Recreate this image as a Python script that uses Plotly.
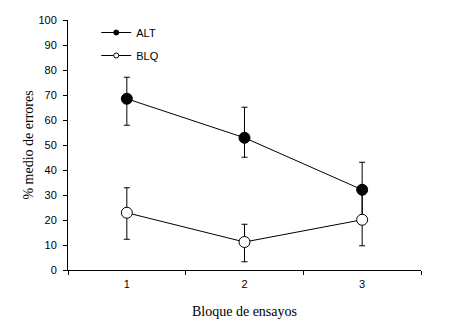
import plotly.graph_objects as go

bloques = ["1", "2", "3"]
alt_mean = [68.5, 52.9, 32.1]
alt_err_plus = [8.6, 12.2, 11.0]
alt_err_minus = [10.6, 7.8, 11.0]
blq_mean = [22.9, 11.2, 20.1]
blq_err_plus = [10.0, 7.1, 10.4]
blq_err_minus = [10.6, 7.9, 10.4]
y_ticks = list(range(0, 101, 10))

sans = "Liberation Sans, Arial, sans-serif"
serif = "Liberation Serif, Times New Roman, serif"

fig = go.Figure()

fig.add_trace(go.Scatter(
    x=bloques, y=alt_mean, mode="lines+markers", showlegend=False,
    line=dict(color="#000000", width=1),
    marker=dict(symbol="circle", size=11, color="#000000", line=dict(color="#000000", width=1)),
    error_y=dict(type="data", symmetric=False, array=alt_err_plus, arrayminus=alt_err_minus,
                 color="#000000", thickness=1, width=3),
))
fig.add_trace(go.Scatter(
    x=bloques, y=blq_mean, mode="lines+markers", showlegend=False,
    line=dict(color="#000000", width=1),
    marker=dict(symbol="circle", size=11, color="#ffffff", line=dict(color="#000000", width=1)),
    error_y=dict(type="data", symmetric=False, array=blq_err_plus, arrayminus=blq_err_minus,
                 color="#000000", thickness=1, width=3),
))
# legend entries
fig.add_trace(go.Scatter(
    x=[None], y=[None], mode="lines+markers", name="ALT", legendgroup="a",
    line=dict(color="#000000", width=1),
    marker=dict(symbol="circle", size=5, color="#000000", line=dict(color="#000000", width=1)),
))
fig.add_trace(go.Scatter(
    x=[None], y=[None], mode="lines+markers", name="BLQ", legendgroup="b",
    line=dict(color="#000000", width=1),
    marker=dict(symbol="circle", size=5, color="#ffffff", line=dict(color="#000000", width=1)),
))

fig.update_layout(
    width=453, height=333,
    margin=dict(l=68, r=32, t=20, b=63),
    paper_bgcolor="white", plot_bgcolor="white",
    font=dict(family=sans, size=11, color="#000000"),
    showlegend=True,
    legend=dict(x=0.08, y=1.008, xanchor="left", yanchor="top",
                bgcolor="rgba(0,0,0,0)", font=dict(family=sans, size=11),
                traceorder="grouped", tracegroupgap=4, itemwidth=30),
    xaxis=dict(type="category", range=[-0.5, 2.5], tickson="boundaries",
               showline=True, linecolor="#000000", linewidth=1,
               ticks="outside", ticklen=4, tickcolor="#000000",
               showgrid=False, zeroline=False, automargin=False,
               tickfont=dict(family=sans, size=11), ticklabelstandoff=4,
               title=dict(text="Bloque de ensayos", font=dict(family=serif, size=14), standoff=16)),
    yaxis=dict(range=[0, 100], tickvals=y_ticks,
               showline=True, linecolor="#000000", linewidth=1,
               ticks="outside", ticklen=4, tickcolor="#000000",
               showgrid=False, zeroline=False, automargin=False,
               tickfont=dict(family=sans, size=11), ticklabelstandoff=4,
               title=dict(text="% medio de errores", font=dict(family=serif, size=14), standoff=1)),
)

fig.write_html("out.html", config={"displayModeBar": False},
               post_script="document.body.style.margin='0';document.body.style.padding='0';")
